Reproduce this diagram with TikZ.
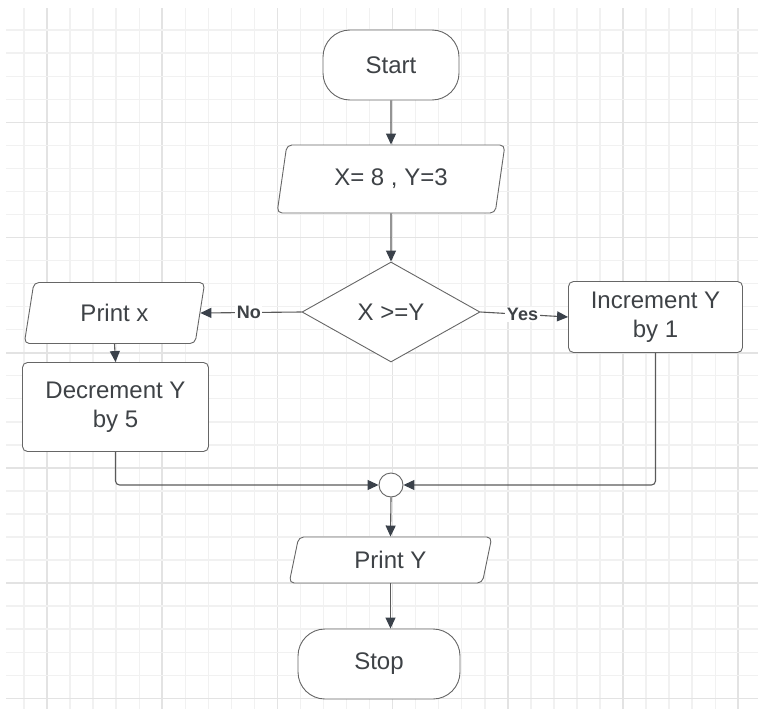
\documentclass[tikz,border=0pt]{standalone}
\usepackage{fontspec}
\setmainfont{Liberation Sans}
\usetikzlibrary{shapes.geometric,arrows.meta}

\definecolor{gridminor}{HTML}{F1F1F1}
\definecolor{gridmajor}{HTML}{E3E3E3}
\definecolor{outline}{HTML}{666666}
\definecolor{wire}{HTML}{5A5A5A}
\definecolor{tipcol}{HTML}{3A414A}
\definecolor{ink}{HTML}{3E4246}

\tikzset{
  txt/.style={text=ink, font=\fontsize{24}{29}\selectfont, align=center, inner sep=0pt},
  shapeline/.style={draw=outline, line width=0.9pt, fill=white},
  terminal/.style={txt, shapeline, rectangle, rounded corners=27pt},
  process/.style={txt, shapeline, rectangle, rounded corners=5pt},
  iobox/.style={txt, shapeline, trapezium, trapezium stretches=true,
    trapezium left angle=#1, trapezium right angle=180-#1, rounded corners=5pt},
  decision/.style={txt, shapeline, diamond, aspect=1.78},
  joint/.style={shapeline, circle, inner sep=0pt, minimum size=24pt},
  flow/.style={draw=wire, line width=1.1pt, -{Triangle[length=11pt,width=10pt,color=tipcol]}},
  tag/.style={text=ink, fill=white, font=\bfseries\fontsize{18}{20}\selectfont, inner sep=1.5pt}
}

\begin{document}
\begin{tikzpicture}[x=1pt,y=-1pt]
\useasboundingbox (0,0) rectangle (758,709);

% background grid: minor every 23.04, major every fifth line
\begin{scope}
  \clip (6,9) rectangle (758,709);
  \foreach \k in {0,...,32} {
    \pgfmathsetmacro\gx{24+23.04*\k}
    \pgfmathtruncatemacro\gm{mod(\k,5)}
    \ifnum\gm=1
      \draw[gridmajor, line width=1.6pt] (\gx,0) -- (\gx,709);
    \else
      \draw[gridminor, line width=1.4pt] (\gx,0) -- (\gx,709);
    \fi
  }
  \foreach \k in {0,...,31} {
    \pgfmathsetmacro\gy{7.1+23.04*\k}
    \pgfmathtruncatemacro\gm{mod(\k,5)}
    \ifnum\gm=0
      \draw[gridmajor, line width=1.6pt] (0,\gy) -- (758,\gy);
    \else
      \draw[gridminor, line width=1.4pt] (0,\gy) -- (758,\gy);
    \fi
  }
\end{scope}

% flowchart blocks
\node[terminal, minimum width=136pt, minimum height=70pt] (start) at (391,65) {Start};
\node[iobox=75, minimum width=228pt, minimum height=68pt] (init) at (391,179) {X= 8 , Y=3};
\node[decision, minimum width=178pt, minimum height=100pt] (test) at (391,312) {X >=Y};
\node[iobox=77, minimum width=181pt, minimum height=61pt] (printx) at (114.5,313) {Print x};
\node[process, minimum width=186pt, minimum height=89pt] (decr) at (115.5,407) {Decrement Y\\by 5};
\node[process, minimum width=174pt, minimum height=71pt] (incr) at (655.5,317) {Increment Y\\by 1};
\node[joint] (merge) at (391,485) {};
\node[iobox=78, minimum width=204pt, minimum height=46pt] (printy) at (390.5,560) {Print Y};
\node[terminal, minimum width=162pt, minimum height=70pt] (stop) at (379,664) {Stop};

% connectors
\draw[flow] (start.south) -- (init.north);
\draw[flow] (init.south) -- (test.north);
\draw[flow] (test.west) -- (printx.east) node[tag, pos=0.52] {No};
\draw[flow] (test.east) -- (incr.west) node[tag, pos=0.48] {Yes};
\draw[flow] (printx.south) -- (decr.north);
\draw[flow, rounded corners=4pt] (decr.south) |- (merge.west);
\draw[flow, rounded corners=4pt] (incr.south) |- (merge.east);
\draw[flow] (merge.south) -- (printy.north);
\draw[flow] (printy.south) -- (printy.south |- stop.north);
\end{tikzpicture}
\end{document}
